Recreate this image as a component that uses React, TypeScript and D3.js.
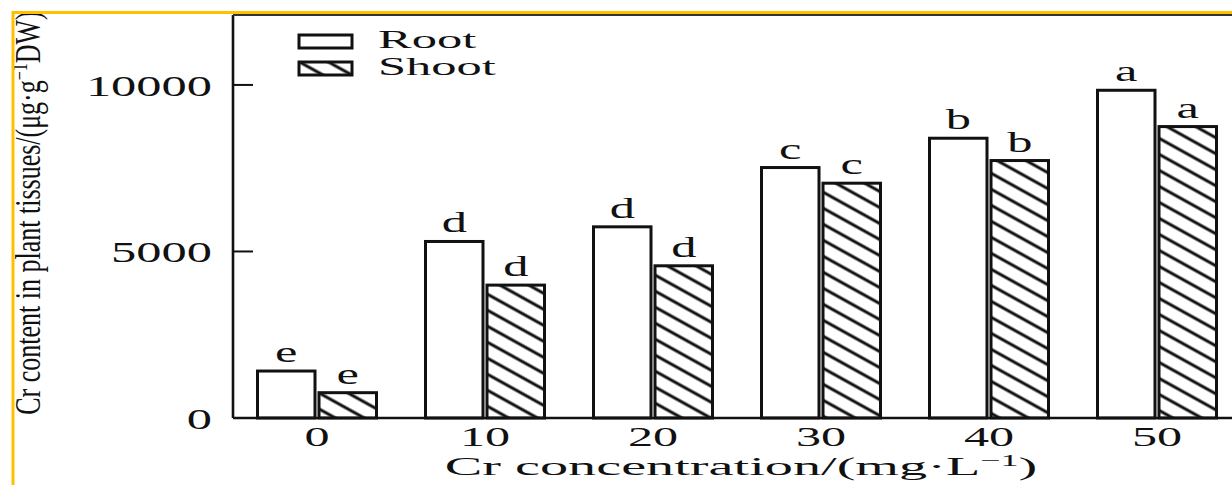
import React from "react";
import * as d3 from "d3";

const categories = ["0", "10", "20", "30", "40", "50"];
const rootValues = [1410, 5300, 5740, 7520, 8400, 9840];
const shootValues = [760, 3990, 4570, 7050, 7730, 8750];
const rootLetters = ["e", "d", "d", "c", "b", "a"];
const shootLetters = ["e", "d", "d", "c", "b", "a"];
const yTicks = [0, 5000, 10000];
const seriesNames = ["Root", "Shoot"];

const W = 1232;
const H = 485;
const LEFT = 233;
const RIGHT = 1241;
const TOP = 15;
const BOTTOM = 418;
const SX = 1.74;
const FONT = "'Liberation Serif', 'Times New Roman', serif";
const FS = 29;
const BAR_W = 57.5;
const GAP = 2;

function SText({ x, y, children, anchor = "middle", fs = FS, sx = SX }: any) {
  return (
    <g transform={`translate(${x},${y}) scale(${sx},1)`}>
      <text x={0} y={0} textAnchor={anchor} fontFamily={FONT} fontSize={fs} fill="#111">
        {children}
      </text>
    </g>
  );
}

export default function App() {
  const x = d3.scaleBand().domain(categories).range([LEFT, RIGHT]).padding(0);
  const y = d3.scaleLinear().domain([0, 12100]).range([BOTTOM, TOP]);
  const center = (c: string) => (x(c) as number) + x.bandwidth() / 2;

  return (
    <svg
      width={W}
      height={H}
      style={{ position: "absolute", left: 0, top: 0, background: "#fff" }}
    >
      <defs>
        <pattern
          id="hatch"
          patternUnits="userSpaceOnUse"
          width={10}
          height={14}
          patternTransform="rotate(29)"
        >
          <rect width={10} height={14} fill="#fff" />
          <line x1={-1} y1={7} x2={11} y2={7} stroke="#111" strokeWidth={3} />
        </pattern>
      </defs>
      <rect x={0} y={0} width={W} height={H} fill="#fff" />

      {/* bars */}
      {categories.map((c, i) => {
        const cx = center(c);
        return (
          <g key={c}>
            <rect
              x={cx - GAP - BAR_W}
              y={y(rootValues[i])}
              width={BAR_W}
              height={BOTTOM - y(rootValues[i])}
              fill="#fff"
              stroke="#111"
              strokeWidth={3}
            />
            <rect
              x={cx + GAP}
              y={y(shootValues[i])}
              width={BAR_W}
              height={BOTTOM - y(shootValues[i])}
              fill="url(#hatch)"
              stroke="#111"
              strokeWidth={3}
            />
            <SText x={cx - GAP - BAR_W / 2} y={y(rootValues[i]) - 9}>
              {rootLetters[i]}
            </SText>
            <SText x={cx + GAP + BAR_W / 2} y={y(shootValues[i]) - 9}>
              {shootLetters[i]}
            </SText>
            <SText x={cx} y={BOTTOM + 28} fs={27} sx={1.86}>
              {c}
            </SText>
          </g>
        );
      })}

      {/* axes frame */}
      <line x1={LEFT} y1={TOP} x2={LEFT} y2={BOTTOM} stroke="#111" strokeWidth={2.6} />
      <line x1={LEFT} y1={BOTTOM} x2={W} y2={BOTTOM} stroke="#111" strokeWidth={2.6} />
      <line x1={LEFT} y1={TOP} x2={W} y2={TOP} stroke="#333" strokeWidth={2} />

      {yTicks.map((t) => (
        <g key={t}>
          <line x1={LEFT} y1={y(t)} x2={LEFT + 20} y2={y(t)} stroke="#111" strokeWidth={2} />
          <SText x={LEFT - 21} y={y(t) + 11} anchor="end">
            {t}
          </SText>
        </g>
      ))}

      {/* legend */}
      {seriesNames.map((s, i) => (
        <g key={s}>
          <rect
            x={299}
            y={35 + i * 27}
            width={53}
            height={13}
            fill={i === 0 ? "#fff" : "url(#hatch)"}
            stroke="#111"
            strokeWidth={3}
          />
          <SText x={378} y={48 + i * 27} anchor="start" fs={25} sx={2.02}>
            {s}
          </SText>
        </g>
      ))}

      {/* x label */}
      <SText x={741} y={475} sx={2.25} fs={25}>
        Cr concentration/(mg·L
        <tspan dy={-9} fontSize={16}>−1</tspan>
        <tspan dy={9}>)</tspan>
      </SText>

      {/* y label */}
      <g transform={`translate(40,213) rotate(-90) scale(1,1.4)`}>
        <text x={0} y={0} textAnchor="middle" fontFamily={FONT} fontSize={26} fill="#111">
          Cr content in plant tissues/(μg·g
          <tspan dy={-9} fontSize={16}>−1</tspan>
          <tspan dy={9}>DW)</tspan>
        </text>
      </g>

      {/* orange highlight border */}
      <line x1={13} y1={12.5} x2={W} y2={12.5} stroke="#FFC000" strokeWidth={3} />
      <line x1={13} y1={11} x2={13} y2={H} stroke="#FFC000" strokeWidth={3} />
    </svg>
  );
}
